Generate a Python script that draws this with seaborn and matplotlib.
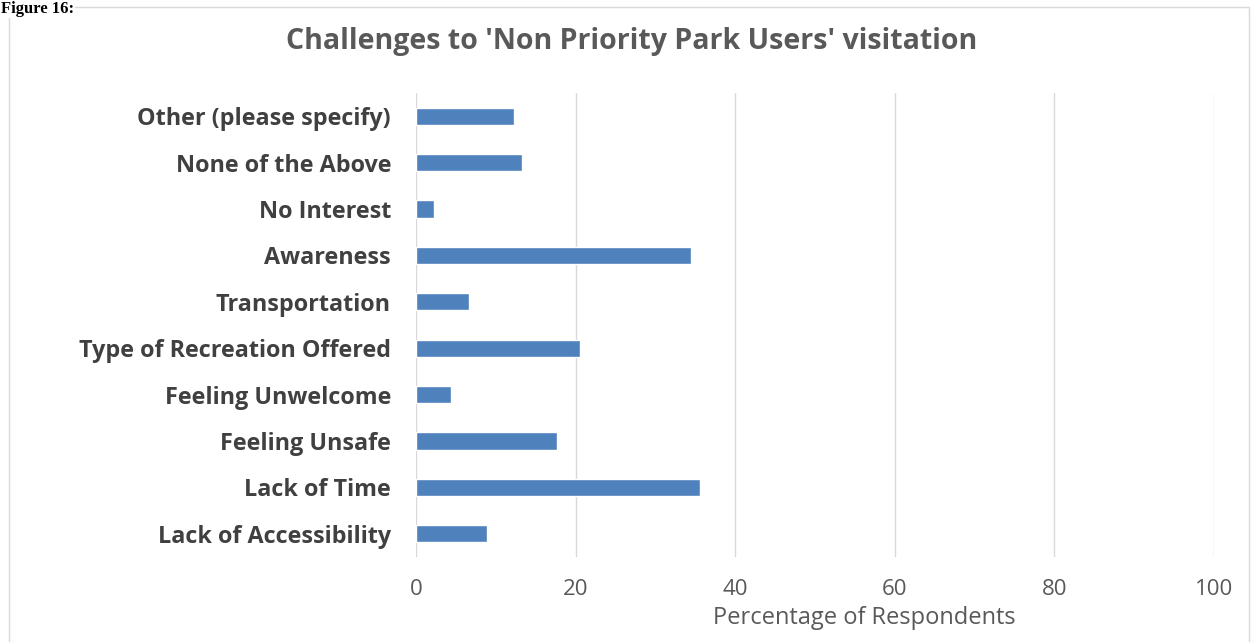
import matplotlib
matplotlib.use("Agg")
import matplotlib.pyplot as plt
import seaborn as sns
import pandas as pd
from matplotlib.patches import Rectangle

# data (top to bottom)
challenges = ["Other (please specify)", "None of the Above", "No Interest", "Awareness",
              "Transportation", "Type of Recreation Offered", "Feeling Unwelcome",
              "Feeling Unsafe", "Lack of Time", "Lack of Accessibility"]
percent = [12.3, 13.3, 2.2, 34.4, 6.6, 20.6, 4.4, 17.7, 35.6, 8.9]
x_ticks = [0, 20, 40, 60, 80, 100]

df = pd.DataFrame({"challenge": challenges, "percent": percent})

sns.set_theme(style="white")
plt.rcParams['font.family'] = ['Open Sans', 'DejaVu Sans']

fig = plt.figure(figsize=(12.52, 6.42), dpi=100)
ax = fig.add_axes([416 / 1252, 1 - 557 / 642, (1214 - 416) / 1252, (557 - 93) / 642])

sns.barplot(data=df, x="percent", y="challenge", orient="h", color="#4F81BD",
            saturation=1, width=0.37, ax=ax)

ax.set_xlim(0, 100)
ax.set_xticks(x_ticks)
ax.set_xticklabels([str(t) for t in x_ticks], fontsize=16, color="#595959")
ax.tick_params(axis="x", length=0, pad=16)
ax.tick_params(axis="y", length=0, pad=18)
for lbl in ax.get_yticklabels():
    lbl.set_fontsize(16.8)
    lbl.set_fontweight("bold")
    lbl.set_color("#404040")
ax.grid(axis="x", color="#D9D9D9", linewidth=1)
ax.set_axisbelow(True)
for s in ax.spines.values():
    s.set_visible(False)

ax.set_ylabel("")
ax.set_xlabel("Percentage of Respondents", fontsize=17, color="#595959")
ax.xaxis.set_label_coords((864 - 416) / (1214 - 416), -0.105)

fig.text(632 / 1252, 1 - 42 / 642, "Challenges to 'Non Priority Park Users' visitation",
         ha="center", va="center", fontsize=20.5, fontweight="bold", color="#595959")

# chart frame and caption above it
fig.patches.append(Rectangle((9 / 1252, -0.01), 1240 / 1252, 1 - 7 / 642 + 0.01,
                             transform=fig.transFigure, fill=False,
                             edgecolor="#D9D9D9", linewidth=1))
fig.text(1 / 1252, 1 - 1 / 642, "Figure 16:", ha="left", va="top", fontsize=12,
         fontweight="bold", family=["Liberation Serif"], color="black",
         bbox=dict(facecolor="white", edgecolor="none", pad=0.5))

fig.savefig("out.png", dpi=100)
